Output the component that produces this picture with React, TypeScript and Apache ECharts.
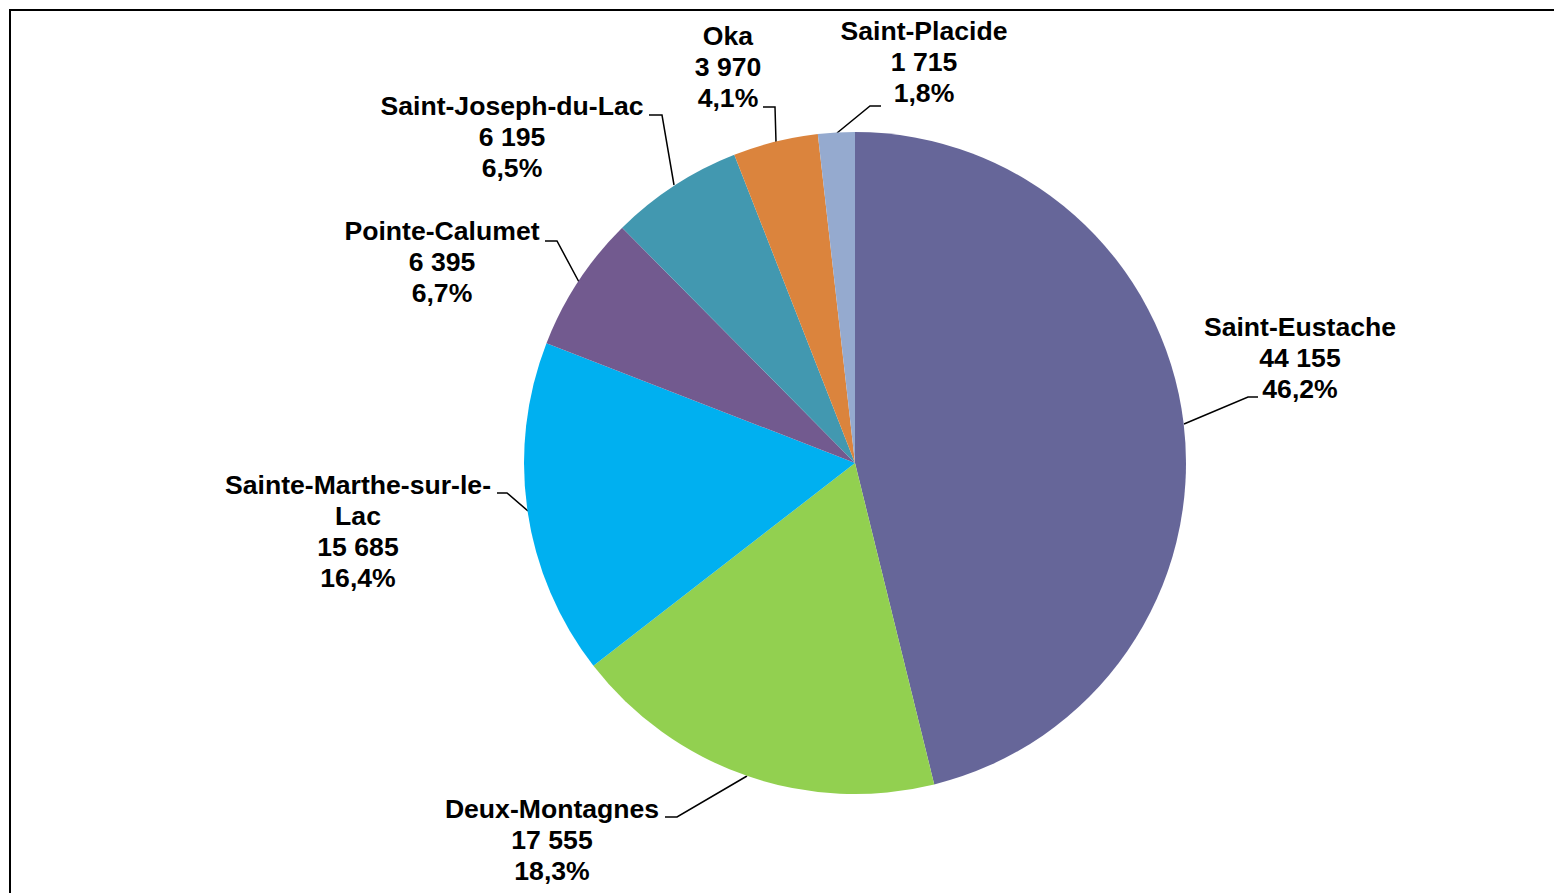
import React, { useEffect, useRef } from "react";
import * as echarts from "echarts";

const municipalities = [
  "Saint-Eustache",
  "Deux-Montagnes",
  "Sainte-Marthe-sur-le-Lac",
  "Pointe-Calumet",
  "Saint-Joseph-du-Lac",
  "Oka",
  "Saint-Placide",
];
const population = [44155, 17555, 15685, 6395, 6195, 3970, 1715];
const sliceColors = ["#666699", "#92D050", "#00B0F0", "#725A8F", "#4298B0", "#DB843D", "#95AACF"];

// label block centres (layout only)
const labelPos: [number, number][] = [
  [1300, 358],
  [552, 840],
  [358, 531],
  [442, 262],
  [512, 137],
  [728, 67],
  [924, 62],
];
// leader line routing (layout only)
const leaderPts: number[][][] = [
  [[1184, 424], [1248, 397], [1258, 397]],
  [[747, 776], [677, 817], [665, 817]],
  [[528, 511], [507, 493], [497, 493]],
  [[579, 282], [557, 241], [545, 241]],
  [[674, 185], [662, 115], [649, 115]],
  [[776, 142], [775, 107], [763, 107]],
  [[837, 133], [870, 106], [881, 106]],
];

const fmtInt = (v: number) => String(v).replace(/\B(?=(\d{3})+(?!\d))/g, " ");
const wrapName = (n: string) => (n.length > 20 ? n.replace(/-([^-]+)$/, "-\n$1") : n);

export default function App() {
  const ref = useRef<HTMLDivElement>(null);
  useEffect(() => {
    if (!ref.current) return;
    const chart = echarts.init(ref.current, null, { renderer: "svg" });
    const total = population.reduce((a, b) => a + b, 0);
    chart.setOption({
      animation: false,
      backgroundColor: "#ffffff",
      graphic: [
        {
          type: "rect",
          shape: { x: 10, y: 10, width: 1700, height: 1000 },
          style: { fill: "none", stroke: "#000", lineWidth: 2 },
          silent: true,
        },
      ],
      series: [
        {
          type: "pie",
          center: [855, 463],
          radius: 331,
          startAngle: 90,
          clockwise: true,
          data: municipalities.map((name, i) => ({
            name,
            value: population[i],
            itemStyle: { color: sliceColors[i] },
          })),
          label: {
            show: true,
            position: "outside",
            fontFamily: "Arial, 'Liberation Sans', sans-serif",
            fontWeight: "bold",
            fontSize: 26.6,
            lineHeight: 31,
            color: "#000",
            align: "center",
            formatter: (p: any) =>
              `${wrapName(p.name)}\n${fmtInt(p.value)}\n${((p.value / total) * 100)
                .toFixed(1)
                .replace(".", ",")}%`,
          },
          labelLine: {
            show: true,
            length: 20,
            length2: 12,
            lineStyle: { color: "#000", width: 1.5 },
          },
          labelLayout: (params: any) => {
            const [x, y] = labelPos[params.dataIndex];
            return {
              x,
              y,
              align: "center",
              verticalAlign: "middle",
              labelLinePoints: leaderPts[params.dataIndex],
            };
          },
          emphasis: { disabled: true },
        },
      ],
    });
    return () => chart.dispose();
  }, []);
  return (
    <div
      ref={ref}
      style={{ position: "absolute", left: 0, top: 0, width: 1554, height: 893 }}
    />
  );
}
